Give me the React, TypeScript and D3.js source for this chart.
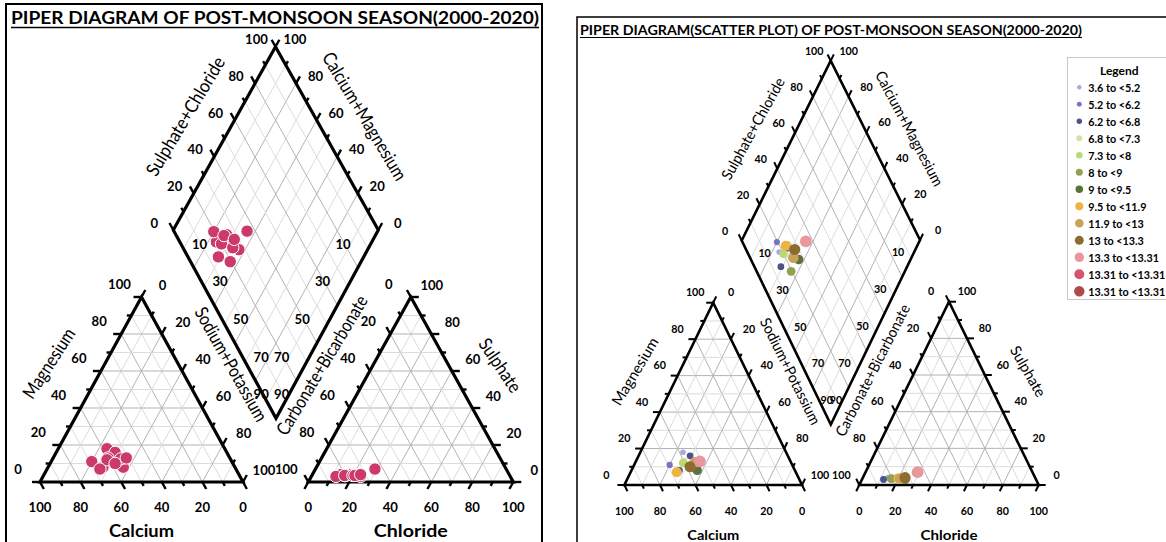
import React from "react";
import * as d3 from "d3";

// ---------------- data ----------------
const classLabels = [
  "3.6 to <5.2", "5.2 to <6.2", "6.2 to <6.8", "6.8 to <7.3", "7.3 to <8", "8 to <9",
  "9 to <9.5", "9.5 to <11.9", "11.9 to <13", "13 to <13.3", "13.3 to <13.31",
  "13.31 to <13.31", "13.31 to <13.31",
];
const classColors = [
  "#a9a9dd", "#7474c4", "#4b5389", "#d5e1a9", "#b9d974", "#8ea352", "#5b733a",
  "#efb343", "#c9a355", "#8d6b31", "#e8979b", "#d9536a", "#b04a4a",
];
const classSizes = [2.8, 3.1, 3.4, 3.8, 4.1, 4.4, 4.7, 5.0, 5.3, 5.6, 5.9, 6.2, 6.5];

// samples (percent of meq)
const sampleClass = [0, 1, 2, 2, 3, 4, 5, 6, 7, 8, 9, 10];
const calcium = [58, 69, 55, 65, 60, 61, 55, 55, 67, 54, 58, 51];
const magnesium = [18, 11, 16, 8, 13, 12, 9, 8, 7, 12.5, 10, 13];
const chloride = [14, 16, 12, 19, 21, 16.5, 16, 24, 20, 21, 23.5, 29];
const sulphate = [4, 3.5, 3, 4, 4, 3.5, 3.5, 3, 3.5, 3.5, 4, 7];

const tickSteps = d3.range(0, 101, 10);
const edgeLabels = [0, 20, 40, 60, 80, 100];
const innerLabels = [10, 30, 50, 70, 90];

const leftTitle = "PIPER DIAGRAM OF POST-MONSOON SEASON(2000-2020)";
const rightTitle = "PIPER DIAGRAM(SCATTER PLOT) OF POST-MONSOON SEASON(2000-2020)";

// ---------------- layout ----------------
const FONT = "Lato, 'Open Sans', sans-serif";

type Pt = [number, number];
type Tri = { x0: number; x1: number; yb: number; ya: number };
type Dia = { L: Pt; T: Pt; R: Pt; B: Pt };
type Cfg = {
  cat: Tri; an: Tri; dia: Dia;
  offL: Pt; offR: Pt; offB: number;
  offUL: Pt; offUR: Pt; offIL: Pt; offIR: Pt;
  digitW: number; tickFs: number;
  edgeW: number; tickW: number; tickLong: number; tickShort: number;
  titleFs: number; boldFs: number;
  titles: { text: string; x: number; y: number; a: number; len: number; bold?: boolean }[];
  colored: boolean;
};

const leftCfg: Cfg = {
  cat: { x0: 40, x1: 243, yb: 482, ya: 297 },
  an: { x0: 308.3, x1: 513.3, yb: 482, ya: 297 },
  dia: { L: [173.3, 230], T: [275.5, 46.7], R: [378.3, 230], B: [276, 418.3] },
  offL: [-22, -13], offR: [21, -12.5], offB: 25,
  offUL: [-19, -7.5], offUR: [19.5, -7.5], offIL: [16, -5], offIR: [-25, -5],
  digitW: 7.6, tickFs: 13,
  edgeW: 3.2, tickW: 2.4, tickLong: 8, tickShort: 4.5,
  titleFs: 18.5, boldFs: 16.5,
  titles: [
    { text: "Sulphate+Chloride", x: 185, y: 116, a: -59, len: 135 },
    { text: "Calcium+Magnesium", x: 365, y: 116, a: 59, len: 146 },
    { text: "Sodium+Potassium", x: 231.5, y: 364, a: 60.5, len: 128 },
    { text: "Carbonate+Bicarbonate", x: 321.5, y: 365, a: -59, len: 159 },
    { text: "Magnesium", x: 48.5, y: 363, a: -57, len: 80 },
    { text: "Sulphate", x: 500.5, y: 365, a: 56, len: 61 },
    { text: "Calcium", x: 141.5, y: 531, a: 0, len: 65, bold: true },
    { text: "Chloride", x: 410.8, y: 531, a: 0, len: 74, bold: true },
  ],
  colored: false,
};

const rightCfg: Cfg = {
  cat: { x0: 624.4, x1: 802, yb: 485, ya: 302.7 },
  an: { x0: 859.3, x1: 1038.7, yb: 485, ya: 301.7 },
  dia: { L: [741.7, 240.5], T: [830.7, 60.7], R: [920, 240], B: [830.8, 424.5] },
  offL: [-18, -11], offR: [18, -11], offB: 25.7,
  offUL: [-16.5, -10.5], offUR: [18, -10.5], offIL: [14, -6.5], offIR: [-13, -6.5],
  digitW: 6.2, tickFs: 11.5,
  edgeW: 2.6, tickW: 2, tickLong: 7, tickShort: 4,
  titleFs: 15, boldFs: 13,
  titles: [
    { text: "Sulphate+Chloride", x: 752.5, y: 128.3, a: -61, len: 114 },
    { text: "Calcium+Magnesium", x: 910, y: 128.3, a: 62, len: 128 },
    { text: "Sodium+Potassium", x: 791, y: 371, a: 63.5, len: 117 },
    { text: "Carbonate+Bicarbonate", x: 872, y: 370, a: -63, len: 146 },
    { text: "Magnesium", x: 634.5, y: 371, a: -59, len: 76 },
    { text: "Sulphate", x: 1028.6, y: 371, a: 60, len: 56 },
    { text: "Calcium", x: 713.2, y: 534.5, a: 0, len: 52, bold: true },
    { text: "Chloride", x: 949, y: 534.5, a: 0, len: 57, bold: true },
  ],
  colored: true,
};

function makeTri(t: Tri) {
  const xs = d3.scaleLinear().domain([0, 100]).range([t.x0, t.x1]);
  const ys = d3.scaleLinear().domain([0, 100]).range([t.yb, t.ya]);
  // bl, br, ap weights (sum 100)
  return (bl: number, br: number, ap: number): Pt => [xs(br + ap / 2), ys(ap)];
}

function makeDia(d: Dia) {
  const leftEdge = d3.interpolateArray(d.L, d.B);
  const rightEdge = d3.interpolateArray(d.T, d.R);
  return (u: number, v: number): Pt => {
    const a = leftEdge(v) as number[];
    const b = rightEdge(v) as number[];
    const p = d3.interpolateArray(a, b)(u) as number[];
    return [p[0], p[1]];
  };
}

const unit = (a: Pt, b: Pt): Pt => {
  const dx = b[0] - a[0], dy = b[1] - a[1];
  const l = Math.hypot(dx, dy) || 1;
  return [dx / l, dy / l];
};

function NumLabel({ p, off, v, cfg }: { p: Pt; off: Pt; v: number; cfg: Cfg }) {
  const s = String(v);
  return (
    <text
      x={p[0] + off[0]}
      y={p[1] + off[1]}
      textAnchor="middle"
      dominantBaseline="central"
      fontFamily={FONT}
      fontWeight={700}
      fontSize={cfg.tickFs}
      textLength={s.length * cfg.digitW}
      lengthAdjust="spacingAndGlyphs"
      fill="#000"
    >
      {s}
    </text>
  );
}

function Panel({ cfg }: { cfg: Cfg }) {
  const C = makeTri(cfg.cat);
  const A = makeTri(cfg.an);
  const D = makeDia(cfg.dia);
  const grid: JSX.Element[] = [];
  const ticks: JSX.Element[] = [];
  const labels: JSX.Element[] = [];
  const gridColor = (k: number) => (k % 20 === 0 ? "#b3b3b3" : "#dcdcdc");

  const line = (key: string, p: Pt, q: Pt, stroke: string, w: number) => (
    <line key={key} x1={p[0]} y1={p[1]} x2={q[0]} y2={q[1]} stroke={stroke} strokeWidth={w} />
  );

  // triangle grids
  [["c", C], ["a", A]].forEach(([nm, P]: any) => {
    for (let k = 10; k <= 90; k += 10) {
      const col = gridColor(k);
      grid.push(line(`${nm}g1${k}`, P(100 - k, 0, k), P(0, 100 - k, k), col, 1));
      grid.push(line(`${nm}g2${k}`, P(k, 100 - k, 0), P(k, 0, 100 - k), col, 1));
      grid.push(line(`${nm}g3${k}`, P(100 - k, k, 0), P(0, k, 100 - k), col, 1));
    }
  });
  // diamond grid
  for (let k = 10; k <= 90; k += 10) {
    const col = gridColor(k);
    grid.push(line(`dgu${k}`, D(k / 100, 0), D(k / 100, 1), col, 1));
    grid.push(line(`dgv${k}`, D(0, k / 100), D(1, k / 100), col, 1));
  }

  const tick = (key: string, p: Pt, dir: Pt, t: number) => {
    const len = t % 20 === 0 ? cfg.tickLong : cfg.tickShort;
    return line(key, p, [p[0] + dir[0] * len, p[1] + dir[1] * len], "#000", cfg.tickW);
  };

  // cation: bl=Ca, br=Na+K, ap=Mg ; anion: bl=CO3+HCO3, br=Cl, ap=SO4
  const cBL = C(100, 0, 0), cBR = C(0, 100, 0), cAP = C(0, 0, 100);
  const aBL = A(100, 0, 0), aBR = A(0, 100, 0), aAP = A(0, 0, 100);
  tickSteps.forEach((t) => {
    ticks.push(tick(`cb${t}`, C(t, 100 - t, 0), unit(cAP, cBR), t));
    ticks.push(tick(`cl${t}`, C(100 - t, 0, t), unit(cBR, cBL), t));
    ticks.push(tick(`cr${t}`, C(0, t, 100 - t), unit(cBL, cAP), t));
    ticks.push(tick(`ab${t}`, A(100 - t, t, 0), unit(aAP, aBL), t));
    ticks.push(tick(`ar${t}`, A(0, 100 - t, t), unit(aBL, aBR), t));
    ticks.push(tick(`al${t}`, A(t, 0, 100 - t), unit(aBR, aAP), t));
    const u = t / 100;
    ticks.push(tick(`dul${t}`, D(u, 0), unit(D(u, 1), D(u, 0)), t));
    const v = 1 - t / 100;
    ticks.push(tick(`dur${t}`, D(1, v), unit(D(0, v), D(1, v)), t));
  });

  edgeLabels.forEach((t) => {
    labels.push(<NumLabel key={`lcb${t}`} p={C(t, 100 - t, 0)} off={[0, cfg.offB]} v={t} cfg={cfg} />);
    labels.push(<NumLabel key={`lcl${t}`} p={C(100 - t, 0, t)} off={cfg.offL} v={t} cfg={cfg} />);
    labels.push(<NumLabel key={`lcr${t}`} p={C(0, t, 100 - t)} off={cfg.offR} v={t} cfg={cfg} />);
    labels.push(<NumLabel key={`lab${t}`} p={A(100 - t, t, 0)} off={[0, cfg.offB]} v={t} cfg={cfg} />);
    labels.push(<NumLabel key={`lal${t}`} p={A(t, 0, 100 - t)} off={cfg.offL} v={t} cfg={cfg} />);
    labels.push(<NumLabel key={`lar${t}`} p={A(0, 100 - t, t)} off={cfg.offR} v={t} cfg={cfg} />);
    labels.push(<NumLabel key={`ldu${t}`} p={D(t / 100, 0)} off={cfg.offUL} v={t} cfg={cfg} />);
    labels.push(<NumLabel key={`ldr${t}`} p={D(1, 1 - t / 100)} off={cfg.offUR} v={t} cfg={cfg} />);
  });
  innerLabels.forEach((t) => {
    labels.push(<NumLabel key={`lil${t}`} p={D(0, t / 100)} off={cfg.offIL} v={t} cfg={cfg} />);
    labels.push(<NumLabel key={`lir${t}`} p={D(1 - t / 100, 1)} off={cfg.offIR} v={t} cfg={cfg} />);
  });

  const poly = (pts: Pt[]) => pts.map((p) => p.join(",")).join(" ");

  // points
  const pts: JSX.Element[] = [];
  const order = d3.range(sampleClass.length);
  const groups: { key: string; fn: (i: number) => Pt }[] = [
    { key: "c", fn: (i) => C(calcium[i], 100 - calcium[i] - magnesium[i], magnesium[i]) },
    { key: "a", fn: (i) => A(100 - chloride[i] - sulphate[i], chloride[i], sulphate[i]) },
    { key: "d", fn: (i) => D((chloride[i] + sulphate[i]) / 100, (100 - calcium[i] - magnesium[i]) / 100) },
  ];
  groups.forEach((g) => {
    order.forEach((i) => {
      const p = g.fn(i);
      if (cfg.colored) {
        const c = sampleClass[i];
        pts.push(<circle key={`${g.key}${i}`} cx={p[0]} cy={p[1]} r={classSizes[c]} fill={classColors[c]} />);
      } else {
        pts.push(
          <circle key={`${g.key}${i}`} cx={p[0]} cy={p[1]} r={6.2} fill="#cc3a6c" stroke="#fff" strokeWidth={1} />
        );
      }
    });
  });

  return (
    <g>
      <g>{grid}</g>
      <g fill="none" stroke="#000" strokeWidth={cfg.edgeW} strokeLinejoin="miter">
        <polygon points={poly([cBL, cBR, cAP])} />
        <polygon points={poly([aBL, aBR, aAP])} />
        <polygon points={poly([cfg.dia.L, cfg.dia.T, cfg.dia.R, cfg.dia.B])} />
      </g>
      <g>{ticks}</g>
      <g>{pts}</g>
      <g>{labels}</g>
      <g>
        {cfg.titles.map((t) => (
          <text
            key={t.text}
            transform={`translate(${t.x},${t.y}) rotate(${t.a})`}
            textAnchor="middle"
            dominantBaseline="central"
            fontFamily={FONT}
            fontWeight={t.bold ? 700 : 400}
            fontSize={t.bold ? cfg.boldFs : cfg.titleFs}
            textLength={t.len}
            lengthAdjust="spacingAndGlyphs"
          >
            {t.text}
          </text>
        ))}
      </g>
    </g>
  );
}

function Legend() {
  const x0 = 1067.5, y0 = 57.5;
  const rowY = d3.scaleLinear().domain([0, classLabels.length - 1]).range([87.3, 291.3]);
  return (
    <g>
      <rect x={x0} y={y0} width={120} height={242} fill="#fff" stroke="#c8c8c8" strokeWidth={1} />
      <text x={1119.3} y={70.7} textAnchor="middle" dominantBaseline="central" fontFamily={FONT} fontWeight={700} fontSize={12}>
        Legend
      </text>
      {classLabels.map((lab, i) => (
        <g key={i}>
          <circle cx={1079.3} cy={rowY(i)} r={classSizes[i] * 0.8} fill={classColors[i]} />
          <text x={1088.3} y={rowY(i)} dominantBaseline="central" fontFamily={FONT} fontWeight={700} fontSize={10.8}>
            {lab}
          </text>
        </g>
      ))}
    </g>
  );
}

export default function App() {
  return (
    <svg
      width={1166}
      height={542}
      viewBox="0 0 1166 542"
      style={{ position: "absolute", left: 0, top: 0, background: "#fff" }}
    >
      <rect x={0} y={0} width={1166} height={542} fill="#fff" />
      {/* frames */}
      <rect x={6} y={4} width={536} height={560} fill="none" stroke="#000" strokeWidth={2} />
      <rect x={577} y={17} width={620} height={560} fill="none" stroke="#000" strokeWidth={1.5} />
      {/* titles */}
      <text x={275} y={18} textAnchor="middle" dominantBaseline="central" fontFamily={FONT} fontWeight={700} fontSize={16.5} textLength={528} lengthAdjust="spacingAndGlyphs">
        {leftTitle}
      </text>
      <line x1={11} x2={539} y1={27.5} y2={27.5} stroke="#000" strokeWidth={1.5} />
      <text x={580} y={30} dominantBaseline="central" fontFamily={FONT} fontWeight={700} fontSize={13.5} textLength={502} lengthAdjust="spacingAndGlyphs">
        {rightTitle}
      </text>
      <line x1={580} x2={1082} y1={37.5} y2={37.5} stroke="#000" strokeWidth={1.2} />
      <Panel cfg={leftCfg} />
      <Panel cfg={rightCfg} />
      <Legend />
    </svg>
  );
}
